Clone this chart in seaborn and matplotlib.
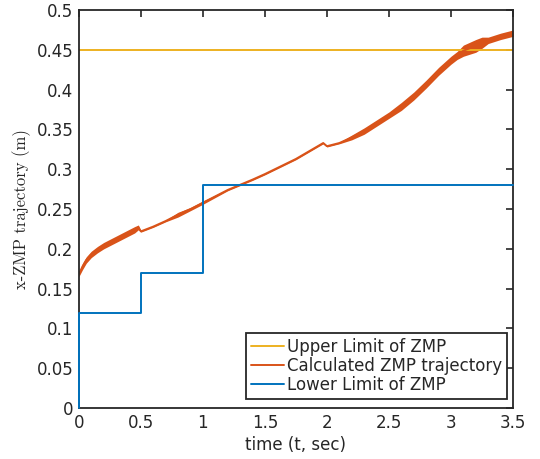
import numpy as np
import pandas as pd
import matplotlib
matplotlib.use("Agg")
import matplotlib.pyplot as plt
import seaborn as sns
from matplotlib.ticker import FuncFormatter

# ---- data ----
upper_t = [0.0, 3.5]
upper_y = [0.45, 0.45]

traj_t = [0.0, 0.03, 0.06, 0.1, 0.15, 0.2, 0.3, 0.4, 0.45, 0.48, 0.5, 0.6, 0.7, 0.8,
          0.9, 1.0, 1.2, 1.4, 1.5, 1.75, 1.97, 2.0, 2.1, 2.2, 2.3, 2.4, 2.5, 2.6,
          2.7, 2.8, 2.9, 3.0, 3.05, 3.1, 3.2, 3.25, 3.3, 3.4, 3.5]
traj_y = [0.168, 0.178, 0.186, 0.193, 0.199, 0.204, 0.212, 0.220, 0.224, 0.227, 0.222,
          0.228, 0.235, 0.243, 0.250, 0.258, 0.274, 0.287, 0.294, 0.313, 0.333, 0.329,
          0.333, 0.340, 0.348, 0.358, 0.368, 0.379, 0.392, 0.407, 0.423, 0.437, 0.443,
          0.449, 0.455, 0.459, 0.462, 0.467, 0.471]
# half-width of the visible jitter band around the trajectory
traj_jit = [0.003, 0.004, 0.004, 0.004, 0.004, 0.004, 0.004, 0.004, 0.004, 0.003, 0.001,
            0.001, 0.001, 0.003, 0.002, 0.002, 0.001, 0.001, 0.001, 0.001, 0.001, 0.001,
            0.001, 0.003, 0.004, 0.004, 0.004, 0.005, 0.005, 0.005, 0.005, 0.005, 0.005,
            0.007, 0.008, 0.007, 0.004, 0.004, 0.004]

lower_t = [0.0, 0.0, 0.5, 1.0, 3.5]
lower_y = [0.0, 0.12, 0.17, 0.28, 0.28]

labels = ["Upper Limit of ZMP", "Calculated ZMP trajectory", "Lower Limit of ZMP"]
c_up, c_traj, c_low = "#EDB120", "#D95319", "#0072BD"

sns.set_style("white")
plt.rcParams['font.family'] = ['DejaVu Sans']

fig = plt.figure(figsize=(5.4, 4.59), dpi=100)
ax = fig.add_axes([0.146, 0.111, 0.804, 0.867])

sns.lineplot(x=upper_t, y=upper_y, ax=ax, color=c_up, lw=1.4, label=labels[0],
             estimator=None, sort=False)
tr = pd.DataFrame({"t": traj_t, "y": traj_y, "j": traj_jit})
ax.fill_between(tr["t"], tr["y"] - tr["j"], tr["y"] + tr["j"], color=c_traj, lw=0)
sns.lineplot(data=tr, x="t", y="y", ax=ax, color=c_traj, lw=1.4, label=labels[1],
             estimator=None, sort=False)
sns.lineplot(x=lower_t, y=lower_y, ax=ax, color=c_low, lw=1.4, label=labels[2],
             estimator=None, sort=False, drawstyle="steps-post")
ax.lines[-1].set_zorder(3)
ax.lines[-1].set_clip_on(False)

ax.set_xlim(0, 3.5)
ax.set_ylim(0, 0.5)
ax.set_xticks(np.arange(0, 3.51, 0.5))
ax.set_yticks(np.arange(0, 0.501, 0.05))
fmt = FuncFormatter(lambda v, p: "%g" % round(v, 3))
ax.xaxis.set_major_formatter(fmt)
ax.yaxis.set_major_formatter(fmt)
ax.tick_params(direction="in", length=5, width=1.2, colors="#262626",
               labelsize=12, top=True, right=True, labelcolor="#262626", pad=4)
for s in ax.spines.values():
    s.set_visible(True)
    s.set_color("#262626")
    s.set_linewidth(1.3)
    s.set_zorder(2.5)

ax.set_xlabel("time (t, sec)", fontsize=12, color="#262626", labelpad=3)
ax.set_ylabel("x-ZMP trajectory (m)", fontsize=12, color="#262626",
              family=["cmr10", "DejaVu Serif"], labelpad=4)

leg = ax.legend(loc="lower right", bbox_to_anchor=(0.986, 0.023), fontsize=12,
                frameon=True, fancybox=False, framealpha=1, edgecolor="#262626",
                handlelength=2.0, handletextpad=0.15, borderpad=0.3,
                labelspacing=0.05, borderaxespad=0.0)
leg.get_frame().set_linewidth(1.3)
for t in leg.get_texts():
    t.set_color("#262626")

fig.savefig("out.png", dpi=100)
